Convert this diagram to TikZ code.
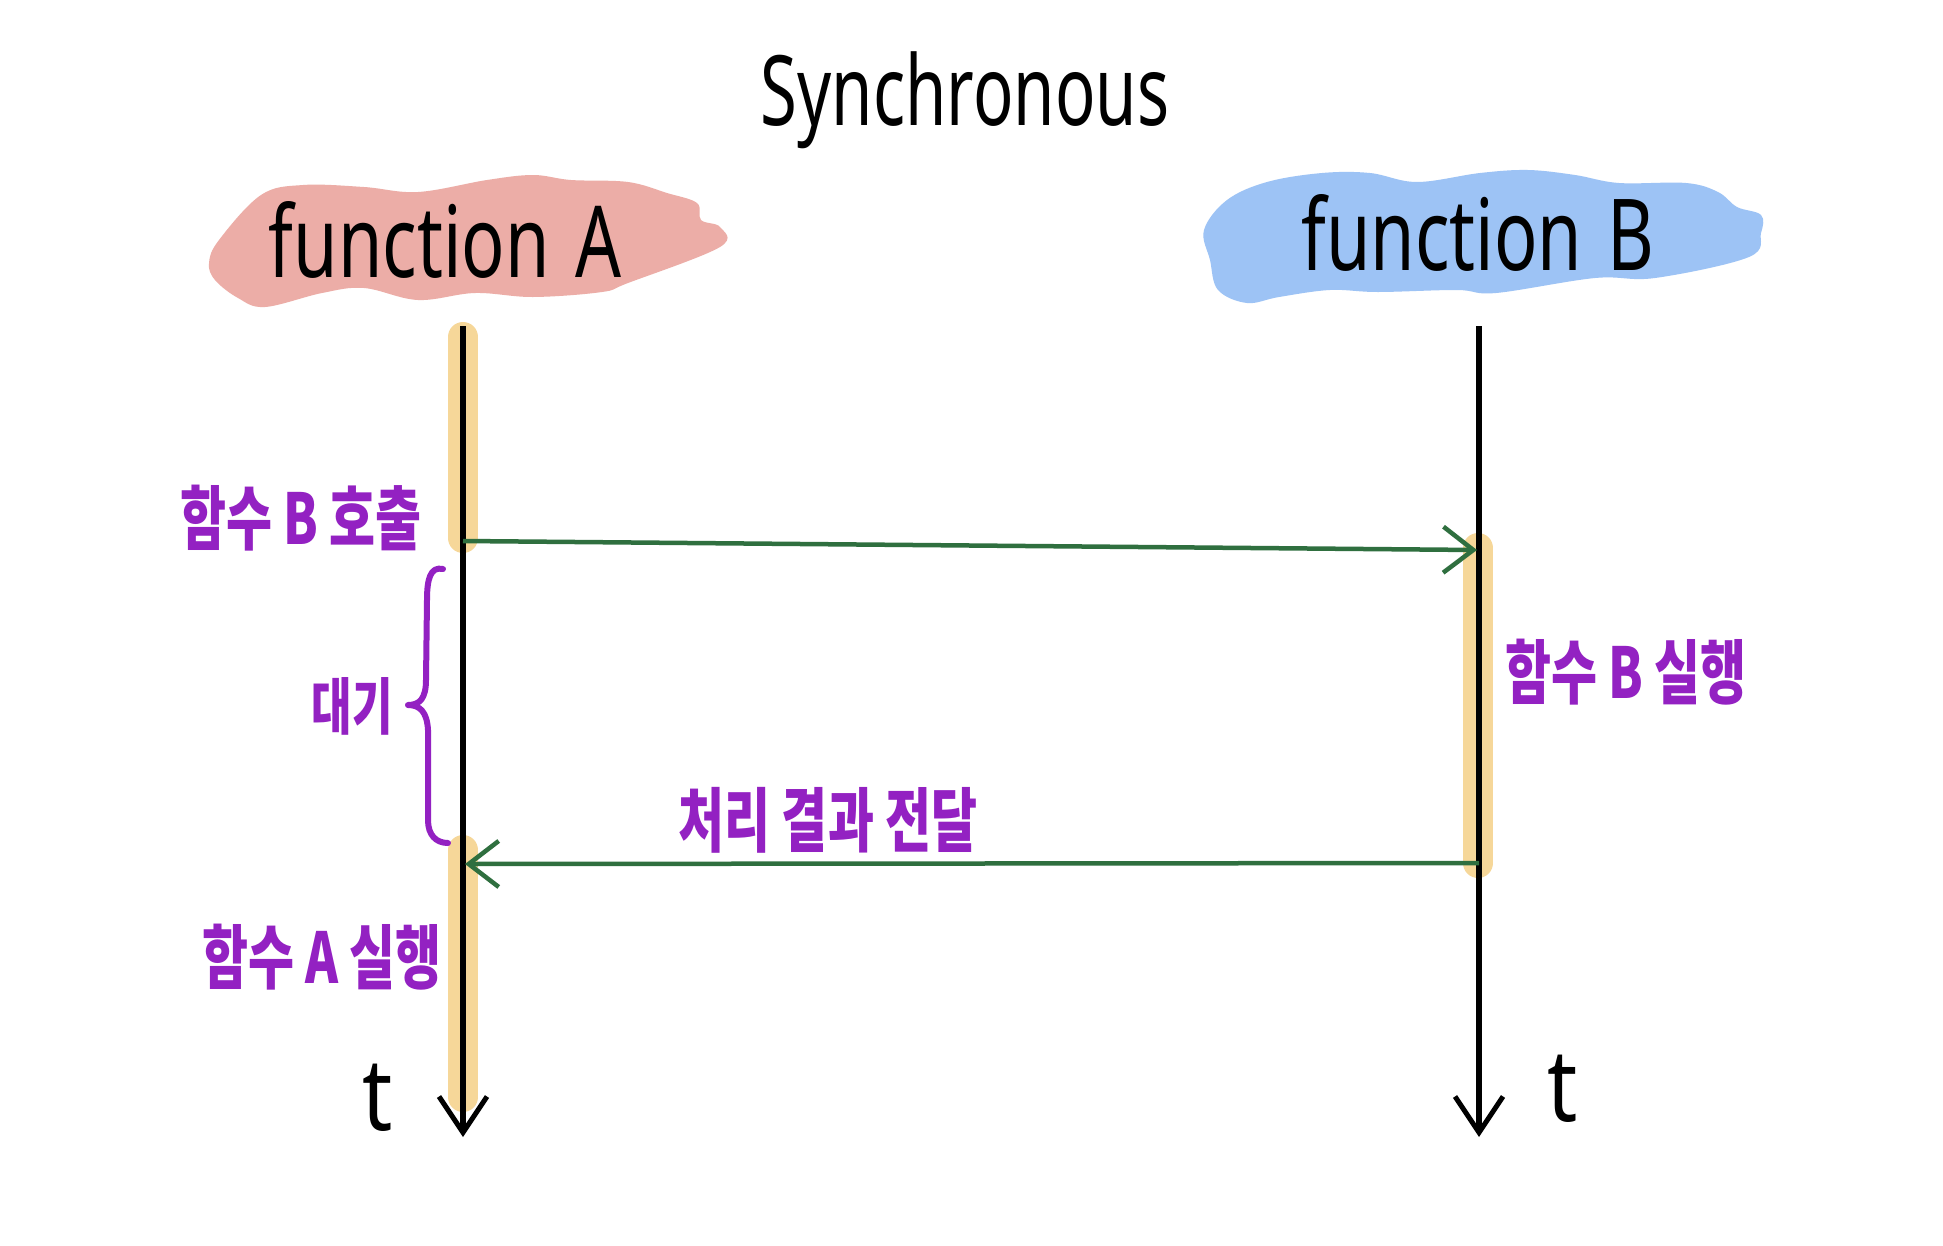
\documentclass[tikz,border=0pt]{standalone}
\usepackage{graphicx}
\usepackage{fontspec}
\setmainfont{Noto Sans}
\newfontfamily\kr{Noto Sans CJK KR}
\usetikzlibrary{arrows.meta}
\definecolor{pinkblob}{HTML}{ECADA7}
\definecolor{blueblob}{HTML}{9DC3F5}
\definecolor{barcol}{HTML}{F6D799}
\definecolor{lblpurple}{HTML}{9321C2}
\definecolor{arrgreen}{HTML}{2F6F3F}
\tikzset{
  lifeline/.style={line width=5.5pt, -{Straight Barb[length=36pt,width=48pt,line width=5pt]}},
  actbar/.style={line width=30pt, barcol, line cap=round},
  msg/.style={line width=4.5pt, arrgreen, -{Straight Barb[length=30pt,width=46pt,line width=4.5pt]}},
  krlabel/.style={text=lblpurple, font=\kr\bfseries\fontsize{50}{54}\selectfont, inner sep=0pt},
  hdr/.style={font=\fontsize{72}{76}\selectfont, inner sep=0pt},
  tlabel/.style={font=\fontsize{84}{88}\selectfont, inner sep=0pt},
}
\begin{document}
\begin{tikzpicture}[x=1pt,y=-1pt]
\useasboundingbox[fill=white] (0,0) rectangle (1943,1245);
% blobs
\fill[pinkblob] plot[smooth cycle, tension=0.6] coordinates {
 (209,263) (219,240) (261,195) (303,185) (364,187) (418,192) (487,180) (533,175)
 (571,180) (628,182) (667,193) (697,203) (701,220) (720,227) (720,247) (628,283)
 (602,292) (533,297) (475,293) (418,300) (364,288) (322,293) (265,307) (238,298) (215,280)};
\fill[blueblob] plot[smooth cycle, tension=0.6] coordinates {
 (1204,230) (1227,200) (1267,182) (1322,173) (1370,173) (1417,182) (1480,173) (1528,170)
 (1575,175) (1619,183) (1686,183) (1718,192) (1737,207) (1761,215) (1761,233) (1749,257)
 (1655,278) (1595,278) (1496,293) (1457,290) (1378,292) (1330,290) (1279,297) (1247,303)
 (1218,290) (1210,260)};
% title and headers
\node[font=\fontsize{67}{70}\selectfont, inner sep=0pt] (title) at (965,100) {\scalebox{1}[1.45]{Synchronous}};
\node[hdr] (fa) at (445,240) {\scalebox{1}[1.38]{function\hspace{0.35em}A}};
\node[hdr] (fb) at (1478,233) {\scalebox{1}[1.38]{function\hspace{0.35em}B}};
% coordinates
\coordinate (Atop) at (463,326);
\coordinate (Abot) at (463,1137);
\coordinate (Btop) at (1479,326);
\coordinate (Bbot) at (1479,1137);
\coordinate (Acall) at (463,541);
\coordinate (Brecv) at (1477,550);
\coordinate (Bret) at (1479,863);
\coordinate (Arecv) at (465,864);
% activation bars
\draw[actbar] (463,337) -- (463,538);
\draw[actbar] (463,850) -- (463,1097);
\draw[actbar] (1478,548) -- (1478,863);
% lifelines
\draw[lifeline] (Atop) -- (Abot);
\draw[lifeline] (Btop) -- (Bbot);
% messages
\draw[msg] (Acall) -- (Brecv);
\draw[msg] (Bret) -- (Arecv);
% brace
\draw[lblpurple, line width=6pt, line cap=round, line join=round]
 (443,569) .. controls (430,566) and (427,580) .. (427,600) -- (426,680)
 .. controls (426,698) and (420,705) .. (408,705)
 .. controls (420,705) and (427,712) .. (428,730) -- (428,820)
 .. controls (428,835) and (436,843) .. (448,843);
% labels
\node[krlabel] (callB) at (301,518) {\scalebox{1}[1.4]{함수 B 호출}};
\node[krlabel, font=\kr\bfseries\fontsize{44}{48}\selectfont] (wait) at (352,706) {\scalebox{1}[1.4]{대기}};
\node[krlabel] (runB) at (1626,672) {\scalebox{1}[1.4]{함수 B 실행}};
\node[krlabel] (result) at (828,820) {\scalebox{1}[1.4]{처리 결과 전달}};
\node[krlabel] (runA) at (322,957) {\scalebox{1}[1.4]{함수 A 실행}};
% time labels
\node[tlabel] (tA) at (378,1098) {\scalebox{1}[1.2]{t}};
\node[tlabel] (tB) at (1563,1089) {\scalebox{1}[1.2]{t}};
\end{tikzpicture}
\end{document}
